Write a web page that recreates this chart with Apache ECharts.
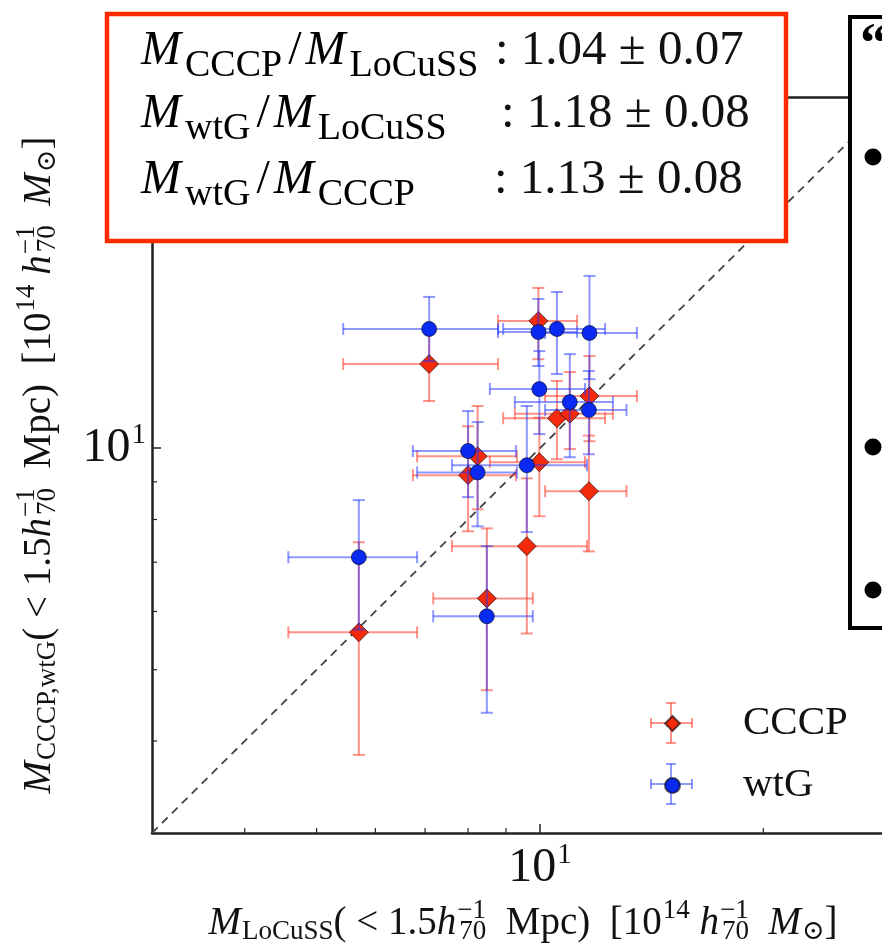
<!DOCTYPE html>
<html>
<head>
<meta charset="utf-8">
<script src="https://cdn.jsdelivr.net/npm/echarts@6/dist/echarts.min.js"></script>
<style>
  html, body { margin: 0; padding: 0; background: #ffffff; }
  #chart { width: 882px; height: 947px; }
</style>
</head>
<body>
<div id="chart"></div>
<script>
// ---- cluster masses in 10^14 h70^-1 Msun (one entry per cluster) ----
const locussMass = [5.70, 7.09, 8.00, 8.24, 8.48, 9.60, 9.95, 9.98, 10.54, 10.97, 11.66, 11.64];
const locussLo   = [4.58, 5.43, 6.74, 6.83, 7.18, 7.61, 8.78, 8.56, 8.92, 9.25, 10.16, 10.16];
const locussHi   = [6.83, 8.78, 9.28, 9.31, 9.78, 11.57, 11.22, 11.50, 12.24, 12.54, 13.51, 13.08];

const cccpMass = [5.62, 13.01, 9.19, 9.75, 6.25, 7.36, 14.89, 9.57, 10.98, 11.14, 11.77, 8.74];
const cccpLo   = [3.83, 11.59, 7.71, 8.26, 4.69, 5.60, 13.21, 8.08, 9.66, 9.97, 10.22, 7.24];
const cccpHi   = [7.45, 14.40, 10.71, 11.41, 7.78, 9.10, 16.51, 11.00, 12.34, 12.69, 13.34, 10.40];

const wtgMass = [7.11, 14.52, 9.91, 9.27, 5.91, 9.48, 14.38, 12.03, 14.52, 11.55, 14.34, 11.27];
const wtgLo   = [5.67, 13.13, 8.58, 7.83, 4.37, 7.69, 12.93, 10.45, 12.61, 9.72, 12.41, 9.81];
const wtgHi   = [8.50, 16.05, 11.23, 10.85, 7.36, 11.41, 15.95, 13.55, 16.30, 13.42, 17.14, 12.73];

// mean mass ratios quoted in the inset box
const ratioNum = ['CCCP', 'wtG', 'wtG'];
const ratioDen = ['LoCuSS', 'LoCuSS', 'CCCP'];
const ratioVal = ['1.04', '1.18', '1.13'];
const ratioErr = ['0.07', '0.08', '0.08'];

// axes
const AXIS_MIN = 3;
const AXIS_MAX = 30;
const xMinorTicks = [4, 5, 6, 7, 8, 9, 20];
const yMinorTicks = [4, 5, 6, 7, 8, 9, 20];
const oneToOne = [3, 30];

// ---- styling ----
const SERIF = "'Liberation Serif', 'DejaVu Serif', serif";
const INK = '#111111';
const SPINE = '#222222';
const RED = '#f42a0c';
const BLUE = '#0a2af2';
const RED_ERR = 'rgba(255, 40, 20, 0.5)';
const BLUE_ERR = 'rgba(30, 50, 255, 0.5)';
const CAP = 12;
const MINOR_LEN = 5;

function errorBarItem(color) {
  return function (params, api) {
    const x = api.value(0), y = api.value(1);
    const c = api.coord([x, y]);
    const xl = api.coord([api.value(2), y])[0];
    const xh = api.coord([api.value(3), y])[0];
    const yl = api.coord([x, api.value(4)])[1];
    const yh = api.coord([x, api.value(5)])[1];
    const h = CAP / 2;
    const style = { stroke: color, lineWidth: 2, fill: null };
    const seg = (x1, y1, x2, y2) => ({ type: 'line', shape: { x1, y1, x2, y2 }, style });
    return {
      type: 'group',
      children: [
        seg(xl, c[1], xh, c[1]),
        seg(xl, c[1] - h, xl, c[1] + h),
        seg(xh, c[1] - h, xh, c[1] + h),
        seg(c[0], yl, c[0], yh),
        seg(c[0] - h, yl, c[0] + h, yl),
        seg(c[0] - h, yh, c[0] + h, yh)
      ]
    };
  };
}

function minorTickItem(dir) {
  return function (params, api) {
    const p = api.coord([api.value(0), api.value(1)]);
    const shape = dir === 'x'
      ? { x1: p[0], y1: p[1], x2: p[0], y2: p[1] - MINOR_LEN }
      : { x1: p[0], y1: p[1], x2: p[0] + MINOR_LEN, y2: p[1] };
    return { type: 'line', shape, style: { stroke: SPINE, lineWidth: 1.2 } };
  };
}

function isDecade(v) {
  const l = Math.log10(v);
  return Math.abs(l - Math.round(l)) < 1e-6;
}

const tickRich = {
  b: { fontFamily: SERIF, fontSize: 48, color: INK },
  e: { fontFamily: SERIF, fontSize: 29, color: INK, padding: [0, 0, 26, 1] }
};
const tickFormatter = v => isDecade(v) ? '{b|10}{e|' + Math.round(Math.log10(v)) + '}' : '';

// axis titles: tokens laid out left to right; 'sp' has a nominal width so the
// following subscript sits directly beneath it
const titleRich = {
  i: { fontFamily: SERIF, fontStyle: 'italic', fontSize: 39, color: INK, align: 'left' },
  r: { fontFamily: SERIF, fontSize: 39, color: INK, align: 'left' },
  sb: { fontFamily: SERIF, fontSize: 27, color: INK, padding: [17, 0, 0, 1], align: 'left' },
  sp: { fontFamily: SERIF, fontSize: 27, color: INK, padding: [0, 0, 26, 1], width: 1, align: 'left' },
  sp2: { fontFamily: SERIF, fontSize: 27, color: INK, padding: [0, 0, 26, 1], align: 'left' }
};
const unitTail = '{r|( < 1.5}{i|h}{sp|\u22121}{sb|70}{r|  Mpc)  [10}{sp2|14}{i| h}{sp|\u22121}{sb|70}{i|  M}{sb|\u2299}{r|]}';
const xTitle = '{i|M}{sb|LoCuSS}' + unitTail;
const yTitle = '{i|M}{sb|CCCP,wtG}' + unitTail;

// inset box with the mass ratios
const boxRich = {
  m: { fontFamily: SERIF, fontStyle: 'italic', fontSize: 48, color: INK },
  s: { fontFamily: SERIF, fontSize: 38, color: INK, padding: [30, 0, 0, 4] },
  r: { fontFamily: SERIF, fontSize: 48, color: INK, padding: [0, 4, 0, 6] }
};
const BOX_LINE_Y = [51, 114, 180];
const BOX_COLON_X = [495, 501, 494];
const boxGraphics = [
  { type: 'rect', z: 100, shape: { x: 107, y: 14, width: 679, height: 227 },
    style: { fill: '#ffffff', stroke: '#ff2a00', lineWidth: 4.5 } }
];
ratioNum.forEach((num, i) => {
  boxGraphics.push({
    type: 'text', z: 101,
    style: {
      x: 141, y: BOX_LINE_Y[i], align: 'left', verticalAlign: 'middle',
      text: '{m|M}{s|' + num + '}{r|/}{m|M}{s|' + ratioDen[i] + '}', rich: boxRich
    }
  });
  boxGraphics.push({
    type: 'text', z: 101,
    style: {
      x: BOX_COLON_X[i], y: BOX_LINE_Y[i], align: 'left', verticalAlign: 'middle',
      text: ': ' + ratioVal[i] + ' \u00b1 ' + ratioErr[i],
      fontFamily: SERIF, fontSize: 49, fill: INK
    }
  });
});

// neighbouring slide panel on the right
const sideGraphics = [
  { type: 'rect', z: 100, shape: { x: 850, y: 17, width: 60, height: 611 },
    style: { fill: '#ffffff', stroke: '#000000', lineWidth: 4 } },
  { type: 'text', z: 101, style: { x: 860, y: 20, text: '\u201c', fontFamily: SERIF, fontSize: 56, fontWeight: 'bold', fill: '#000' } },
  { type: 'circle', z: 101, shape: { cx: 873, cy: 157, r: 8.5 }, style: { fill: '#000' } },
  { type: 'circle', z: 101, shape: { cx: 873, cy: 447, r: 8.5 }, style: { fill: '#000' } },
  { type: 'circle', z: 101, shape: { cx: 873, cy: 590, r: 8.5 }, style: { fill: '#000' } }
];

// error-bar crosses behind the legend markers
function legendCross(cx, cy, color) {
  const s = { stroke: color, lineWidth: 2 };
  const l = (x1, y1, x2, y2) => ({ type: 'line', z: 3, shape: { x1, y1, x2, y2 }, style: s });
  return [
    l(cx - 20, cy, cx + 21, cy), l(cx - 20, cy - 5, cx - 20, cy + 5), l(cx + 21, cy - 5, cx + 21, cy + 5),
    l(cx, cy - 20, cx, cy + 20), l(cx - 5, cy - 20, cx + 5, cy - 20), l(cx - 5, cy + 20, cx + 5, cy + 20)
  ];
}
const legendGraphics = legendCross(671, 723, RED_ERR).concat(legendCross(671, 784, BLUE_ERR));

const spineLine = { show: true, onZero: false, lineStyle: { color: SPINE, width: 2.5 } };

const chart = echarts.init(document.getElementById('chart'), null, { renderer: 'canvas' });

chart.setOption({
  animation: false,
  backgroundColor: '#ffffff',
  textStyle: { fontFamily: SERIF },
  grid: {
    left: 152, top: 97, width: 742, height: 736,
    outerBoundsMode: 'none', containLabel: false, show: false
  },
  xAxis: [
    {
      type: 'log', logBase: 10, min: AXIS_MIN, max: AXIS_MAX, position: 'bottom',
      axisLine: spineLine,
      axisTick: { show: true, inside: true, length: 9, lineStyle: { color: SPINE, width: 1.5 } },
      splitLine: { show: false },
      axisLabel: { formatter: tickFormatter, rich: tickRich, margin: 8, showMinLabel: false, showMaxLabel: false },
      name: xTitle, nameLocation: 'middle', nameGap: 57,
      nameTextStyle: { rich: titleRich }
    },
    {
      // top spine
      type: 'log', logBase: 10, min: AXIS_MIN, max: AXIS_MAX, position: 'top',
      axisLine: spineLine, axisTick: { show: false }, axisLabel: { show: false }, splitLine: { show: false }
    }
  ],
  yAxis: {
    type: 'log', logBase: 10, min: AXIS_MIN, max: AXIS_MAX, position: 'left',
    axisLine: spineLine,
    axisTick: { show: true, inside: true, length: 9, lineStyle: { color: SPINE, width: 1.5 } },
    splitLine: { show: false },
    axisLabel: { formatter: tickFormatter, rich: tickRich, margin: 6, showMinLabel: false, showMaxLabel: false },
    name: yTitle, nameLocation: 'middle', nameGap: 86, nameRotate: 90,
    nameTextStyle: { rich: titleRich }
  },
  legend: {
    data: [{ name: 'CCCP', icon: 'diamond' }, { name: 'wtG', icon: 'circle' }],
    orient: 'vertical', left: 664, top: 703, padding: 0,
    itemWidth: 15, itemHeight: 15, itemGap: 21, selectedMode: false,
    textStyle: { fontFamily: SERIF, fontSize: 41, color: INK, lineHeight: 40, padding: [0, 0, 0, 58] }
  },
  graphic: boxGraphics.concat(sideGraphics, legendGraphics),
  series: [
    {
      name: 'one-to-one', type: 'line', silent: true, z: 1,
      data: oneToOne.map(v => [v, v]), symbol: 'none',
      lineStyle: { color: '#444444', width: 1.8, type: [8, 6] }
    },
    {
      name: 'CCCP errors', type: 'custom', z: 2, silent: true,
      renderItem: errorBarItem(RED_ERR),
      encode: { x: 0, y: 1 },
      data: locussMass.map((x, i) => [x, cccpMass[i], locussLo[i], locussHi[i], cccpLo[i], cccpHi[i]])
    },
    {
      name: 'CCCP', type: 'scatter', z: 3, symbol: 'diamond', symbolSize: 19,
      itemStyle: { color: RED, borderColor: 'rgba(0,0,0,0.6)', borderWidth: 1, opacity: 1 },
      data: locussMass.map((x, i) => [x, cccpMass[i]])
    },
    {
      name: 'wtG errors', type: 'custom', z: 4, silent: true,
      renderItem: errorBarItem(BLUE_ERR),
      encode: { x: 0, y: 1 },
      data: locussMass.map((x, i) => [x, wtgMass[i], locussLo[i], locussHi[i], wtgLo[i], wtgHi[i]])
    },
    {
      name: 'wtG', type: 'scatter', z: 5, symbol: 'circle', symbolSize: 15,
      itemStyle: { color: BLUE, borderColor: 'rgba(0,0,0,0.6)', borderWidth: 1, opacity: 1 },
      data: locussMass.map((x, i) => [x, wtgMass[i]])
    },
    {
      name: 'x minor ticks', type: 'custom', z: 6, silent: true,
      renderItem: minorTickItem('x'), encode: { x: 0, y: 1 },
      data: xMinorTicks.map(v => [v, AXIS_MIN])
    },
    {
      name: 'y minor ticks', type: 'custom', z: 6, silent: true,
      renderItem: minorTickItem('y'), encode: { x: 0, y: 1 },
      data: yMinorTicks.map(v => [AXIS_MIN, v])
    }
  ]
});
</script>
</body>
</html>
